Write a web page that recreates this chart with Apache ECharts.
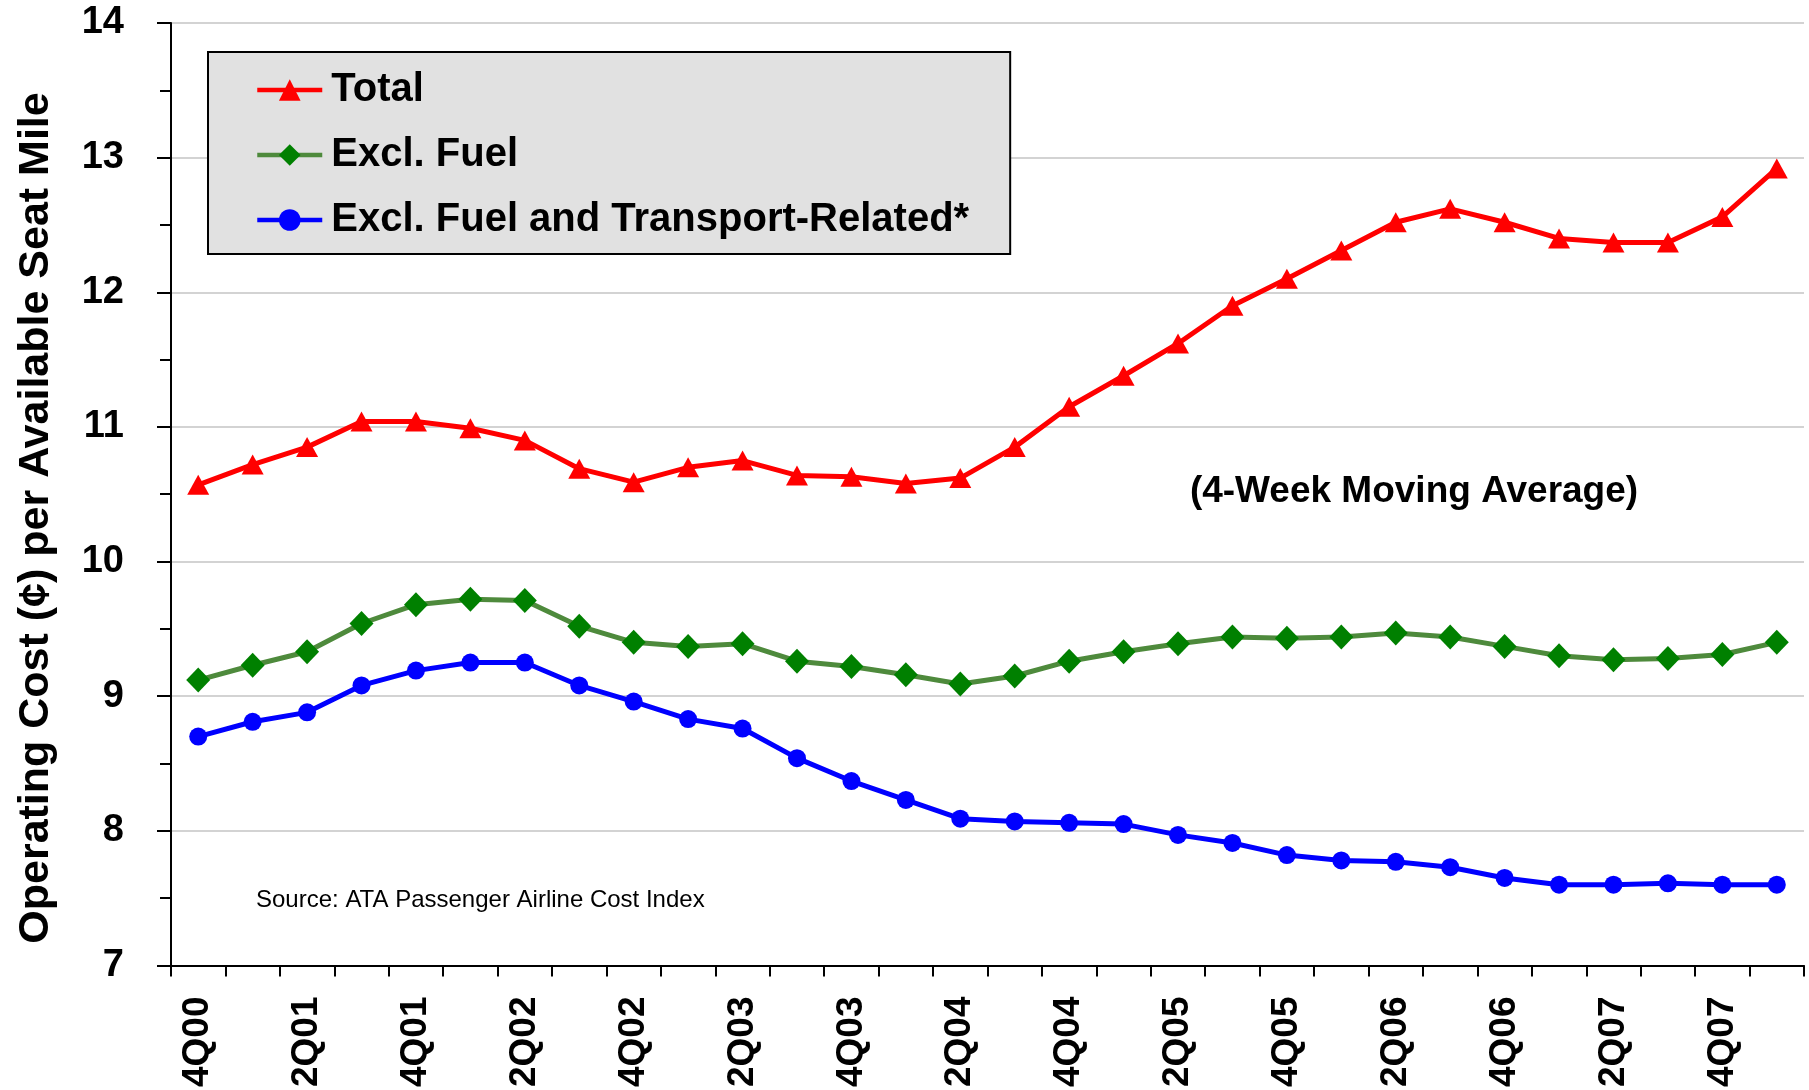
<!DOCTYPE html>
<html>
<head>
<meta charset="utf-8">
<title>Operating Cost per Available Seat Mile</title>
<script src="https://cdn.jsdelivr.net/npm/echarts@6/dist/echarts.min.js"></script>
<style>
  html, body { margin: 0; padding: 0; background: #fff; }
  #chart { width: 1809px; height: 1090px; }
</style>
</head>
<body>
<div id="chart"></div>
<script>
const quarters = ['4Q00', '1Q01', '2Q01', '3Q01', '4Q01', '1Q02', '2Q02', '3Q02', '4Q02', '1Q03',
                  '2Q03', '3Q03', '4Q03', '1Q04', '2Q04', '3Q04', '4Q04', '1Q05', '2Q05', '3Q05',
                  '4Q05', '1Q06', '2Q06', '3Q06', '4Q06', '1Q07', '2Q07', '3Q07', '4Q07', '1Q08'];
const total = [10.57, 10.72, 10.85, 11.04, 11.04, 10.99, 10.90, 10.69, 10.59, 10.70,
               10.75, 10.64, 10.63, 10.58, 10.62, 10.85, 11.15, 11.38, 11.62, 11.90,
               12.10, 12.31, 12.52, 12.62, 12.52, 12.40, 12.37, 12.37, 12.56, 12.92];
const exclFuel = [9.12, 9.23, 9.33, 9.54, 9.68, 9.72, 9.71, 9.52, 9.40, 9.37,
                  9.39, 9.26, 9.22, 9.16, 9.09, 9.15, 9.26, 9.33, 9.39, 9.44,
                  9.43, 9.44, 9.47, 9.44, 9.37, 9.30, 9.27, 9.28, 9.31, 9.40];
const exclFuelTransport = [8.70, 8.81, 8.88, 9.08, 9.19, 9.25, 9.25, 9.08, 8.96, 8.83,
                           8.76, 8.54, 8.37, 8.23, 8.09, 8.07, 8.06, 8.05, 7.97, 7.91,
                           7.82, 7.78, 7.77, 7.73, 7.65, 7.60, 7.60, 7.61, 7.60, 7.60];
const seriesNames = ['Total', 'Excl. Fuel', 'Excl. Fuel and Transport-Related*'];
const yTitle = 'Operating Cost (\u00a2) per Available Seat Mile';
const note = '(4-Week Moving Average)';
const source = 'Source: ATA Passenger Airline Cost Index';

const font = "'Liberation Sans', Arial, sans-serif";
const chart = echarts.init(document.getElementById('chart'));

chart.setOption({
    animation: false,
    backgroundColor: '#fff',
    textStyle: { fontFamily: font },
    grid: { left: 171, right: 5, top: 23, bottom: 121, containLabel: false },
    legend: {
        data: seriesNames,
        orient: 'vertical',
        left: 208,
        top: 52,
        padding: [16, 41, 12, 47],
        itemGap: 21,
        itemWidth: 65,
        itemHeight: 27,
        selectedMode: false,
        backgroundColor: '#e1e1e1',
        borderColor: '#000',
        borderWidth: 2,
        borderRadius: 0,
        lineStyle: { width: 4.5 },
        textStyle: {
            fontFamily: font,
            fontSize: 40,
            fontWeight: 'bold',
            color: '#000',
            lineHeight: 44,
            padding: [0, 0, 0, 4]
        }
    },
    xAxis: {
        type: 'category',
        data: quarters,
        boundaryGap: true,
        axisLine: { lineStyle: { color: '#000', width: 2 } },
        axisTick: { show: true, interval: 0, length: 11, lineStyle: { color: '#000', width: 2 } },
        axisLabel: {
            interval: 1,
            rotate: 90,
            margin: 31,
            fontFamily: font,
            fontSize: 37,
            fontWeight: 'bold',
            color: '#000'
        },
        splitLine: { show: false }
    },
    yAxis: {
        type: 'value',
        min: 7,
        max: 14,
        interval: 1,
        axisLine: { show: true, lineStyle: { color: '#000', width: 2 } },
        axisTick: { show: true, length: 14, lineStyle: { color: '#000', width: 2 } },
        minorTick: { show: true, splitNumber: 2, length: 11, lineStyle: { color: '#000', width: 2 } },
        axisLabel: {
            margin: 47,
            fontFamily: font,
            fontSize: 38,
            fontWeight: 'bold',
            color: '#000'
        },
        splitLine: { show: true, lineStyle: { color: '#c4c4c4', width: 1.5 } }
    },
    series: [
        {
            name: seriesNames[0],
            type: 'line',
            data: total,
            symbol: 'triangle',
            symbolSize: [22, 20],
            itemStyle: { color: '#ff0000' },
            lineStyle: { color: '#ff0000', width: 5 },
            z: 3
        },
        {
            name: seriesNames[1],
            type: 'line',
            data: exclFuel,
            symbol: 'diamond',
            symbolSize: [24, 25],
            itemStyle: { color: '#008000' },
            lineStyle: { color: '#4e8a3c', width: 5 },
            z: 4
        },
        {
            name: seriesNames[2],
            type: 'line',
            data: exclFuelTransport,
            symbol: 'circle',
            symbolSize: 18,
            itemStyle: { color: '#0000ff' },
            lineStyle: { color: '#0000ff', width: 5 },
            z: 5
        }
    ],
    graphic: [
        {
            type: 'text',
            x: 36,
            y: 518,
            rotation: Math.PI / 2,
            style: {
                text: yTitle,
                x: 0, y: 0,
                fill: '#000',
                font: 'bold 43px ' + font,
                textAlign: 'center',
                textVerticalAlign: 'middle'
            }
        },
        {
            type: 'text',
            style: {
                text: note,
                x: 1414, y: 492,
                fill: '#000',
                font: 'bold 37px ' + font,
                textAlign: 'center',
                textVerticalAlign: 'middle'
            }
        },
        {
            type: 'text',
            style: {
                text: source,
                x: 256, y: 900,
                fill: '#000',
                font: '24px ' + font,
                textAlign: 'left',
                textVerticalAlign: 'middle'
            }
        }
    ]
});
</script>
</body>
</html>
